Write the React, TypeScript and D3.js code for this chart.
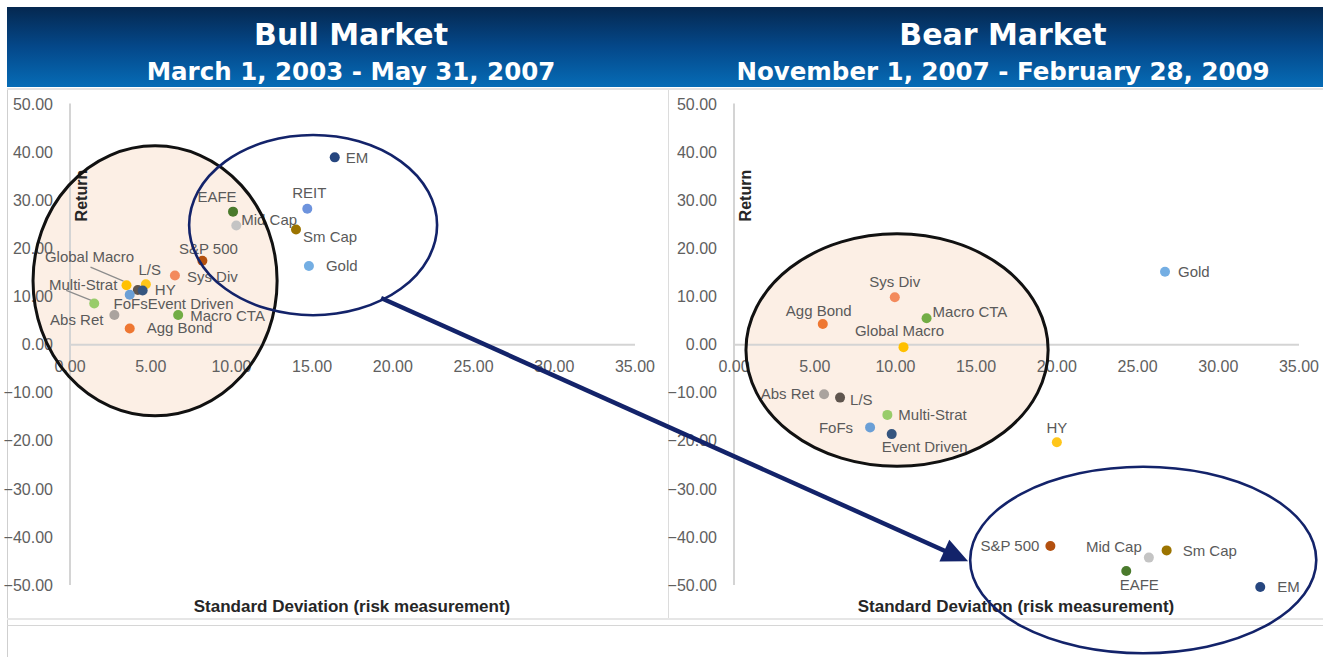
import React from "react";
import * as d3 from "d3";

// ---------- data ----------
const bullNames = ["EM", "REIT", "Gold", "Sm Cap", "Mid Cap", "EAFE", "S&P 500", "Sys Div", "L/S", "HY", "Global Macro", "Multi-Strat", "FoFs", "Event Driven", "Abs Ret", "Macro CTA", "Agg Bond"];
const bullRisk = [16.4, 14.7, 14.8, 14.0, 10.3, 10.1, 8.2, 6.5, 4.2, 4.7, 3.5, 1.5, 3.7, 4.5, 2.75, 6.7, 3.7];
const bullReturn = [39.0, 28.3, 16.4, 24.0, 24.8, 27.7, 17.5, 14.4, 11.4, 12.6, 12.4, 8.6, 10.4, 11.3, 6.2, 6.2, 3.4];

const bearNames = ["EM", "Gold", "Sm Cap", "Mid Cap", "EAFE", "S&P 500", "Sys Div", "L/S", "HY", "Global Macro", "Multi-Strat", "FoFs", "Event Driven", "Abs Ret", "Macro CTA", "Agg Bond"];
const bearRisk = [32.6, 26.7, 26.8, 25.7, 24.3, 19.6, 9.96, 6.57, 20.0, 10.5, 9.5, 8.43, 9.77, 5.58, 11.93, 5.5];
const bearReturn = [-50.4, 15.2, -42.8, -44.3, -47.1, -41.9, 9.9, -11.0, -20.3, -0.5, -14.6, -17.2, -18.6, -10.3, 5.5, 4.3];

const xTicks = [0, 5, 10, 15, 20, 25, 30, 35];
const yTicks = [50, 40, 30, 20, 10, 0, -10, -20, -30, -40, -50];

const titles = ["Bull Market", "Bear Market"];
const subtitles = ["March 1, 2003 - May 31, 2007", "November 1, 2007 - February 28, 2009"];

// ---------- styles ----------
const colors: Record<string, string> = {
  "EM": "#26467f",
  "REIT": "#6d93dd",
  "Gold": "#74aee3",
  "Sm Cap": "#9c7400",
  "Mid Cap": "#c4c4c4",
  "EAFE": "#4a7a2c",
  "S&P 500": "#b3500f",
  "Sys Div": "#f38a5c",
  "L/S": "#5f554e",
  "HY": "#ffc61a",
  "Global Macro": "#ffc000",
  "Multi-Strat": "#98cc6a",
  "FoFs": "#6a9fd6",
  "Event Driven": "#35557f",
  "Abs Ret": "#aaa39e",
  "Macro CTA": "#72ad45",
  "Agg Bond": "#ee7732",
};

type Lab = { dx: number; dy: number; a: "start" | "middle" | "end"; lead?: [number, number, number, number] };
const bullLabels: Record<string, Lab> = {
  "EM": { dx: 11, dy: 0, a: "start" },
  "REIT": { dx: 2, dy: -16, a: "middle" },
  "Gold": { dx: 17, dy: 0, a: "start" },
  "Sm Cap": { dx: 7, dy: 7, a: "start" },
  "Mid Cap": { dx: 5, dy: -6, a: "start" },
  "EAFE": { dx: -16, dy: -15, a: "middle" },
  "S&P 500": { dx: 6, dy: -12, a: "middle" },
  "Sys Div": { dx: 12, dy: 1, a: "start" },
  "L/S": { dx: 12, dy: -20, a: "middle" },
  "HY": { dx: 9, dy: 6, a: "start" },
  "Global Macro": { dx: -37, dy: -28, a: "middle", lead: [-36, -18, -3, -4] },
  "Multi-Strat": { dx: -11, dy: -19, a: "middle", lead: [-28, -13, -3, -3] },
  "FoFs": { dx: 18, dy: 9, a: "end" },
  "Event Driven": { dx: 5, dy: 13, a: "start" },
  "Abs Ret": { dx: -11, dy: 5, a: "end" },
  "Macro CTA": { dx: 12, dy: 1, a: "start" },
  "Agg Bond": { dx: 17, dy: -1, a: "start" },
};
const bearLabels: Record<string, Lab> = {
  "EM": { dx: 17, dy: 0, a: "start" },
  "Gold": { dx: 13, dy: 0, a: "start" },
  "Sm Cap": { dx: 16, dy: 0, a: "start" },
  "Mid Cap": { dx: -35, dy: -11, a: "middle" },
  "EAFE": { dx: 13, dy: 14, a: "middle" },
  "S&P 500": { dx: -11, dy: 0, a: "end" },
  "Sys Div": { dx: 0, dy: -15, a: "middle" },
  "L/S": { dx: 10, dy: 2, a: "start" },
  "HY": { dx: 0, dy: -15, a: "middle" },
  "Global Macro": { dx: -4, dy: -16, a: "middle" },
  "Multi-Strat": { dx: 11, dy: 0, a: "start" },
  "FoFs": { dx: -17, dy: 0, a: "end" },
  "Event Driven": { dx: 33, dy: 13, a: "middle" },
  "Abs Ret": { dx: -10, dy: 0, a: "end" },
  "Macro CTA": { dx: 6, dy: -7, a: "start" },
  "Agg Bond": { dx: -4, dy: -13, a: "middle" },
};

// highlight ellipses in data units: [cx, cy, rx, ry]
const bullEllipses = { black: [5.27, 13.3, 7.56, 28.1], blue: [15.06, 24.9, 7.68, 18.75] };
const bearEllipses = { black: [10.1, -1.1, 9.36, 24.2], blue: [25.35, -44.8, 10.72, 19.4] };
const arrowFrom = [19.27, 9.73]; // bull chart units
const arrowTo = [14.5, -45.06]; // bear chart units

const FONT = "'Liberation Sans', Arial, sans-serif";
const TITLE_FONT = "'DejaVu Sans', sans-serif";
const TEXT = "#5a5a5a";
const NAVY = "#13236a";

const W = 1328, H = 657;

function makeScales(offset: number) {
  const x = d3.scaleLinear().domain([0, 35]).range([70 + offset, 635 + offset]);
  const y = d3.scaleLinear().domain([-50, 50]).range([585, 104.5]);
  return { x, y };
}

function Chart({ offset, names, risk, ret, labels, ell }: any) {
  const { x, y } = makeScales(offset);
  const pts = names.map((n: string, i: number) => ({ n, x: x(risk[i]), y: y(ret[i]) }));
  const [bcx, bcy, brx, bry] = ell.black;
  const [ucx, ucy, urx, ury] = ell.blue;
  const pxX = (v: number) => x(v) - x(0);
  const pxY = (v: number) => y(0) - y(v);
  return (
    <g>
      {/* black ellipse fill */}
      <ellipse cx={x(bcx)} cy={y(bcy)} rx={pxX(brx)} ry={pxY(bry)} fill="#fcefe5" />
      {/* axes */}
      <line x1={x(0)} x2={x(0)} y1={y(50) - 1} y2={y(-50)} stroke="#d4d4d4" strokeWidth={2} />
      <line x1={x(0)} x2={x(35)} y1={y(0)} y2={y(0)} stroke="#d4d4d4" strokeWidth={2} />
      {yTicks.map((t) => (
        <text key={"y" + t} x={x(0) - 17} y={y(t)} dy="0.35em" textAnchor="end" fontSize={16} fill="#606060" fontFamily={FONT}>
          {d3.format(".2f")(t)}
        </text>
      ))}
      {xTicks.map((t) => (
        <text key={"x" + t} x={x(t)} y={y(0) + 27} textAnchor="middle" fontSize={16} fill="#606060" fontFamily={FONT}>
          {d3.format(".2f")(t)}
        </text>
      ))}
      <text x={x(0) + 17} y={(y(50) + y(10)) / 2 - 5} transform={`rotate(-90 ${x(0) + 17} ${(y(50) + y(10)) / 2 - 5})`} textAnchor="middle" fontSize={16} fontWeight="bold" fill="#262626" fontFamily={FONT}>
        Return
      </text>
      <text x={offset + 352} y={612} textAnchor="middle" fontSize={17} fontWeight="bold" fill="#262626" fontFamily={FONT}>
        Standard Deviation (risk measurement)
      </text>
      {/* leader lines */}
      {pts.map((p: any) => {
        const l = labels[p.n];
        if (!l || !l.lead) return null;
        return <line key={"ld" + p.n} x1={p.x + l.lead[0]} y1={p.y + l.lead[1]} x2={p.x + l.lead[2]} y2={p.y + l.lead[3]} stroke="#8c8c8c" strokeWidth={1.2} />;
      })}
      {/* labels */}
      {pts.map((p: any) => {
        const l = labels[p.n];
        return (
          <text key={"t" + p.n} x={p.x + l.dx} y={p.y + l.dy} dy="0.35em" textAnchor={l.a} fontSize={15} fill={TEXT} fontFamily={FONT}>
            {p.n}
          </text>
        );
      })}
      {/* dots */}
      {pts.map((p: any) => (
        <circle key={"c" + p.n} cx={p.x} cy={p.y} r={5} fill={colors[p.n]} />
      ))}
      {/* ellipse strokes */}
      <ellipse cx={x(bcx)} cy={y(bcy)} rx={pxX(brx)} ry={pxY(bry)} fill="none" stroke="#111" strokeWidth={3} />
      <ellipse cx={x(ucx)} cy={y(ucy)} rx={pxX(urx)} ry={pxY(ury)} fill="none" stroke={NAVY} strokeWidth={2.6} />
    </g>
  );
}

export default function App() {
  const left = makeScales(0);
  const right = makeScales(664);
  const x1 = left.x(arrowFrom[0]), y1 = left.y(arrowFrom[1]);
  const x2 = right.x(arrowTo[0]), y2 = right.y(arrowTo[1]);
  const ang = Math.atan2(y2 - y1, x2 - x1);
  const hl = 26, hw = 12;
  const bx = x2 - hl * Math.cos(ang), by = y2 - hl * Math.sin(ang);
  const head = [
    [x2, y2],
    [bx + hw * Math.sin(ang), by - hw * Math.cos(ang)],
    [bx - hw * Math.sin(ang), by + hw * Math.cos(ang)],
  ];
  return (
    <svg width={W} height={H} style={{ position: "absolute", left: 0, top: 0, background: "#fff" }}>
      <defs>
        <linearGradient id="hdr" x1="0" y1="0" x2="0" y2="1">
          <stop offset="0" stopColor="#052850" />
          <stop offset="0.5" stopColor="#04488a" />
          <stop offset="1" stopColor="#066cb6" />
        </linearGradient>
      </defs>
      <rect x={0} y={0} width={W} height={H} fill="#fff" />
      {/* header */}
      <rect x={7} y={7} width={1316} height={80} fill="url(#hdr)" />
      <line x1={7} x2={1323} y1={89} y2={89} stroke="#e3e3e3" strokeWidth={2} />
      {titles.map((t, i) => (
        <g key={t}>
          <text x={i === 0 ? 351 : 1003} y={45} textAnchor="middle" fontSize={30} fontWeight="bold" fill="#fff" fontFamily={TITLE_FONT}>
            {t}
          </text>
          <text x={i === 0 ? 351 : 1003} y={80} textAnchor="middle" fontSize={24.5} fontWeight="bold" fill="#fff" fontFamily={TITLE_FONT}>
            {subtitles[i]}
          </text>
        </g>
      ))}
      {/* frames */}
      <line x1={7.5} x2={7.5} y1={90} y2={657} stroke="#cfcfcf" strokeWidth={1} />
      <line x1={668.5} x2={668.5} y1={90} y2={620} stroke="#dcdcdc" strokeWidth={1} />
      <line x1={7} x2={1323} y1={619} y2={619} stroke="#e6e6e6" strokeWidth={2} />
      <line x1={7} x2={1323} y1={625.5} y2={625.5} stroke="#d6d6d6" strokeWidth={1} />
      <Chart offset={0} names={bullNames} risk={bullRisk} ret={bullReturn} labels={bullLabels} ell={bullEllipses} />
      <Chart offset={664} names={bearNames} risk={bearRisk} ret={bearReturn} labels={bearLabels} ell={bearEllipses} />
      {/* arrow */}
      <line x1={x1} y1={y1} x2={bx + 2 * Math.cos(ang)} y2={by + 2 * Math.sin(ang)} stroke={NAVY} strokeWidth={4.5} />
      <polygon points={head.map((p) => p.join(",")).join(" ")} fill={NAVY} />
    </svg>
  );
}
